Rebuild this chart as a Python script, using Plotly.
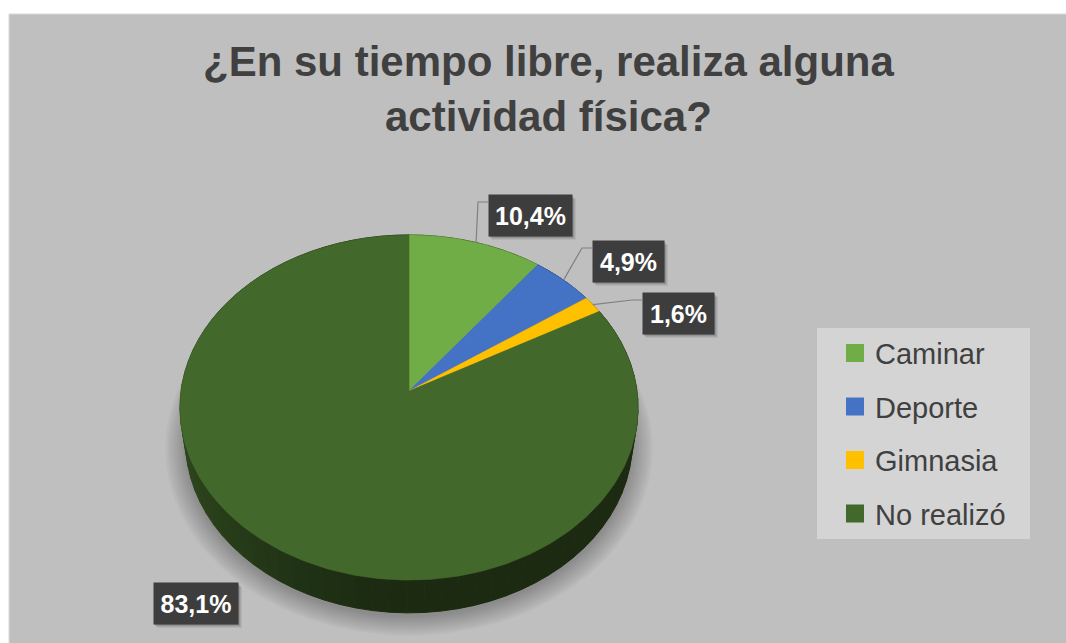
import numpy as np
import plotly.graph_objects as go

# ---------------- data ----------------
categories = ["Caminar", "Deporte", "Gimnasia", "No realizó"]
values = [10.4, 4.9, 1.6, 83.1]
value_labels = ["10,4%", "4,9%", "1,6%", "83,1%"]
title_text = "¿En su tiempo libre, realiza alguna<br>actividad física?"

# ---------------- style ----------------
colors = ["#70ad47", "#4472c4", "#ffc000", "#43682b"]
BG = "#bfbfbf"
TEXT = "#404040"
W, H = 1066, 643

# 3D pie projection (pixels)
CX, CY = 409, 391
SCALE = 228.0
RD = 0.1445
PHI = np.arcsin(0.75)
HR = 0.234

# label boxes: top-left corner and size (pixels)
label_boxes = [(488, 194), (592, 240), (642, 292), (153, 582)]
label_sizes = [(83, 41), (71, 41), (71, 41), (84, 41)]
label_leader = [True, True, True, False]

# legend layout (pixels)
LEG_BOX = (817, 328, 1030, 539)
LEG_Y0, LEG_DY = 353, 53.5
LEG_SQ_X, LEG_SQ = 846, 18
LEG_TX = 873


def proj(theta, r=1.0, w=0.0):
    theta = np.asarray(theta, dtype=float)
    u = r * np.sin(theta)
    v = r * np.cos(theta)
    yc = v * np.sin(PHI) + w * np.cos(PHI)
    zc = 1 + RD * (v * np.cos(PHI) - w * np.sin(PHI))
    return CX + SCALE * u / zc, CY - SCALE * yc / zc


def shade(hexcol, f):
    h = hexcol.lstrip("#")
    r, g, b = (int(h[i:i + 2], 16) for i in (0, 2, 4))
    return "rgb(%d,%d,%d)" % (r * f, g * f, b * f)


fig = go.Figure()

total = float(sum(values))
cum = np.concatenate([[0.0], np.cumsum(values)]) / total * 2 * np.pi

# soft shadow under the pie
full = np.linspace(0, 2 * np.pi, 241)
for k in np.linspace(1.09, 1.0, 10):
    sx, sy = proj(full, r=k, w=-HR)
    fig.add_trace(go.Scatter(x=sx, y=sy + 4, mode="lines", fill="toself",
                             fillcolor="rgba(0,0,0,0.028)",
                             line=dict(width=0), hoverinfo="skip", showlegend=False))

# side walls
walls = []
for i in range(len(values)):
    a0, a1 = cum[i], cum[i + 1]
    n = max(2, int(np.ceil((a1 - a0) / (2 * np.pi) * 90)))
    ts = np.linspace(a0, a1, n + 1)
    for j in range(n):
        t0, t1 = ts[j], ts[j + 1]
        tm = 0.5 * (t0 + t1)
        walls.append((np.cos(tm), t0, t1, tm, colors[i]))
walls.sort(key=lambda w: -w[0])
for _, t0, t1, tm, col in walls:
    f = 0.41 + 0.27 * max(0.0, -np.sin(tm)) ** 1.5
    c = shade(col, f)
    xt, yt = proj([t0, t1])
    xb, yb = proj([t1, t0], w=-HR)
    fig.add_trace(go.Scatter(x=np.r_[xt, xb], y=np.r_[yt, yb], mode="lines",
                             fill="toself", fillcolor=c, line=dict(width=1, color=c),
                             hoverinfo="skip", showlegend=False))

# top faces
for i, cat in enumerate(categories):
    a0, a1 = cum[i], cum[i + 1]
    ts = np.linspace(a0, a1, max(3, int((a1 - a0) / (2 * np.pi) * 360) + 2))
    rx, ry = proj(ts)
    fig.add_trace(go.Scatter(x=np.r_[CX, rx, CX], y=np.r_[CY, ry, CY], mode="lines",
                             fill="toself", fillcolor=colors[i],
                             line=dict(width=0.6, color=colors[i]),
                             name=cat, hoverinfo="skip", showlegend=False))

# data labels + leader lines
annotations = []
shapes = [dict(type="rect", xref="x", yref="y", x0=9, y0=14, x1=W + 2, y1=H + 2,
               fillcolor=BG, line=dict(color="#d9d9d9", width=1), layer="below")]
for i, lab in enumerate(value_labels):
    bx, by = label_boxes[i]
    bw, bh = label_sizes[i]
    if label_leader[i]:
        mid = 0.5 * (cum[i] + cum[i + 1])
        sx, sy = proj(mid)
        ex, ey = bx, by + 8
        fig.add_trace(go.Scatter(x=[float(sx), ex - 10, ex], y=[float(sy), ey, ey],
                                 mode="lines", line=dict(color="#808080", width=1.2),
                                 hoverinfo="skip", showlegend=False))
    for off, a in [(5, 0.06), (4, 0.08), (3, 0.10), (2, 0.12)]:
        shapes.append(dict(type="rect", xref="x", yref="y", x0=bx + off - 1, y0=by + off,
                           x1=bx + bw + off, y1=by + bh + off,
                           fillcolor="rgba(0,0,0,%.2f)" % a, line=dict(width=0),
                           layer="above"))
    annotations.append(dict(x=bx, y=by, xref="x", yref="y", xanchor="left", yanchor="top",
                            text="<b>%s</b>" % lab, showarrow=False,
                            width=bw - 10, height=bh - 10, align="center", valign="middle",
                            font=dict(family="Arial", size=25, color="white"),
                            bgcolor="#3d3d3d", borderpad=5))

# legend (drawn)
shapes.append(dict(type="rect", xref="x", yref="y", x0=LEG_BOX[0], y0=LEG_BOX[1],
                   x1=LEG_BOX[2], y1=LEG_BOX[3], fillcolor="#d4d4d4",
                   line=dict(width=0), layer="below"))
for i, cat in enumerate(categories):
    yc = LEG_Y0 + i * LEG_DY
    shapes.append(dict(type="rect", xref="x", yref="y", x0=LEG_SQ_X, x1=LEG_SQ_X + LEG_SQ,
                       y0=yc - LEG_SQ / 2, y1=yc + LEG_SQ / 2, fillcolor=colors[i],
                       line=dict(width=0)))
    annotations.append(dict(x=LEG_TX, y=yc + 1, xref="x", yref="y", xanchor="left",
                            yanchor="middle", text=cat, showarrow=False,
                            font=dict(family="Arial", size=29, color=TEXT)))

# title
annotations.append(dict(x=548, y=36, xref="x", yref="y", xanchor="center", yanchor="top",
                        text="<b>%s</b>" % title_text, showarrow=False,
                        font=dict(family="Arial", size=42, color=TEXT)))

fig.update_layout(
    width=W, height=H, margin=dict(l=0, r=0, t=0, b=0),
    paper_bgcolor="white", plot_bgcolor="rgba(0,0,0,0)",
    xaxis=dict(range=[0, W], visible=False, fixedrange=True),
    yaxis=dict(range=[H, 0], visible=False, fixedrange=True),
    shapes=shapes, annotations=annotations, showlegend=False,
)

fig.write_html("out.html", config={"displayModeBar": False},
               post_script="document.body.style.margin='0';")
